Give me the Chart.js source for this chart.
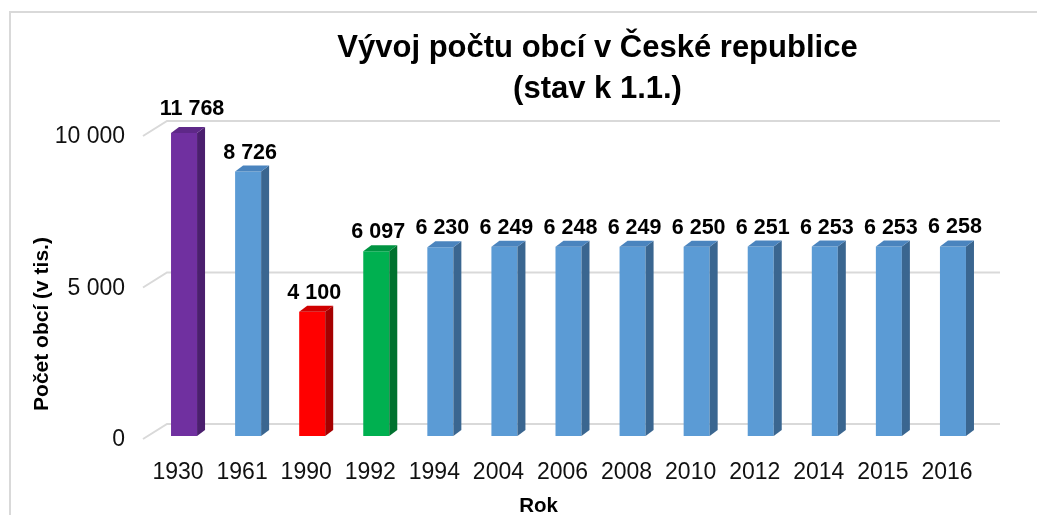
<!DOCTYPE html>
<html>
<head>
<meta charset="utf-8">
<script src="https://cdn.jsdelivr.net/npm/chart.js@4"></script>
<style>
  body { margin: 0; background: #fff; overflow: hidden; }
  #frame { position: absolute; left: 9px; top: 11px; width: 1100px; height: 600px; border: 2px solid #d9d9d9; }
  #wrap { position: absolute; left: 0; top: 0; width: 1037px; height: 515px; }
</style>
</head>
<body>
<div id="frame"></div>
<div id="wrap"><canvas id="obceChart" width="1037" height="515"></canvas></div>
<script>
const years = ['1930', '1961', '1990', '1992', '1994', '2004', '2006', '2008', '2010', '2012', '2014', '2015', '2016'];
const counts = [11768, 8726, 4100, 6097, 6230, 6249, 6248, 6249, 6250, 6251, 6253, 6253, 6258];
const yTicks = [0, 5000, 10000];

const FONT = '"Liberation Sans", Arial, sans-serif';

// front / side / top colour for each bar
const front = ['#7030A0', '#5B9BD5', '#FF0000', '#00B050'];
const side = ['#4B1F6E', '#3A6690', '#A50000', '#00722F'];
const top3d = ['#5E2888', '#4A84BE', '#D00000', '#009442'];
const pick = (arr, i) => i < 3 ? arr[i] : (i === 3 ? arr[3] : arr[1]);

const fmt = v => String(v).replace(/\B(?=(\d{3})+(?!\d))/g, ' ');

const DX = 8, DY = 6; // bar depth

const bars3d = {
    id: 'bars3d',
    beforeDatasetsDraw(chart) {
        const { ctx, chartArea: a, scales: { y } } = chart;
        ctx.save();
        ctx.strokeStyle = '#d9d9d9';
        ctx.lineWidth = 2;
        yTicks.forEach(v => {
            const py = y.getPixelForValue(v);
            ctx.beginPath();
            ctx.moveTo(a.left - 9, py + 3);
            ctx.lineTo(a.left + 15, py - 12);
            ctx.lineTo(a.right + 15, py - 12);
            ctx.stroke();
        });
        ctx.restore();
    },
    afterDatasetsDraw(chart) {
        const { ctx, chartArea: a } = chart;
        const meta = chart.getDatasetMeta(0);
        ctx.save();
        meta.data.forEach((bar, i) => {
            const l = bar.x - bar.width / 2, r = bar.x + bar.width / 2;
            const t = Math.max(bar.y, a.top), b = bar.base;
            ctx.fillStyle = pick(side, i);
            ctx.beginPath();
            ctx.moveTo(r, t); ctx.lineTo(r + DX, t - DY); ctx.lineTo(r + DX, b - DY); ctx.lineTo(r, b);
            ctx.closePath(); ctx.fill();
            ctx.fillStyle = pick(top3d, i);
            ctx.beginPath();
            ctx.moveTo(l, t); ctx.lineTo(l + DX, t - DY); ctx.lineTo(r + DX, t - DY); ctx.lineTo(r, t);
            ctx.closePath(); ctx.fill();

            ctx.fillStyle = '#000';
            ctx.font = 'bold 21.5px ' + FONT;
            ctx.textAlign = 'center';
            ctx.textBaseline = 'alphabetic';
            const lift = i === 0 ? 18 : 13;
            ctx.fillText(fmt(counts[i]), bar.x + (i === 0 ? 8 : 2), t - lift);
        });
        ctx.restore();
    },
    afterDraw(chart) {
        const { ctx, chartArea: a } = chart;
        ctx.save();
        ctx.fillStyle = '#000';
        ctx.textAlign = 'center';
        ctx.textBaseline = 'middle';
        ctx.font = 'bold 31px ' + FONT;
        const cx = (a.left + a.right) / 2 + 29;
        ctx.fillText('Vývoj počtu obcí v České republice', cx, 48);
        ctx.fillText('(stav k 1.1.)', cx, 89);

        ctx.font = 'bold 20.5px ' + FONT;
        ctx.fillText('Rok', cx - 59, 506);

        ctx.font = 'bold 21px ' + FONT;
        ctx.translate(42, a.bottom - 112);
        ctx.rotate(-Math.PI / 2);
        ctx.fillText('Počet obcí (v tis.)', 0, 0);
        ctx.restore();
    }
};

new Chart(document.getElementById('obceChart'), {
    type: 'bar',
    data: {
        labels: years,
        datasets: [{
            data: counts,
            backgroundColor: years.map((_, i) => pick(front, i)),
            borderWidth: 0,
            categoryPercentage: 1,
            barPercentage: 0.406
        }]
    },
    options: {
        responsive: false,
        animation: false,
        layout: { padding: { top: 133, right: 52, bottom: 0, left: 0 } },
        plugins: {
            legend: { display: false },
            tooltip: { enabled: false },
            title: { display: false }
        },
        scales: {
            x: {
                grid: { display: false },
                border: { display: false },
                ticks: { color: '#111', font: { family: FONT, size: 23 }, padding: 15, labelOffset: -6, maxRotation: 0 },
                afterFit: s => { s.height = 79; }
            },
            y: {
                min: 0,
                max: 10000,
                grid: { display: false },
                border: { display: false },
                afterBuildTicks: s => { s.ticks = yTicks.map(v => ({ value: v })); },
                ticks: {
                    color: '#111',
                    font: { family: FONT, size: 23 },
                    padding: 19,
                    labelOffset: 4,
                    callback: v => fmt(v)
                },
                afterFit: s => { s.width = 152; }
            }
        }
    },
    plugins: [bars3d]
});
</script>
</body>
</html>
